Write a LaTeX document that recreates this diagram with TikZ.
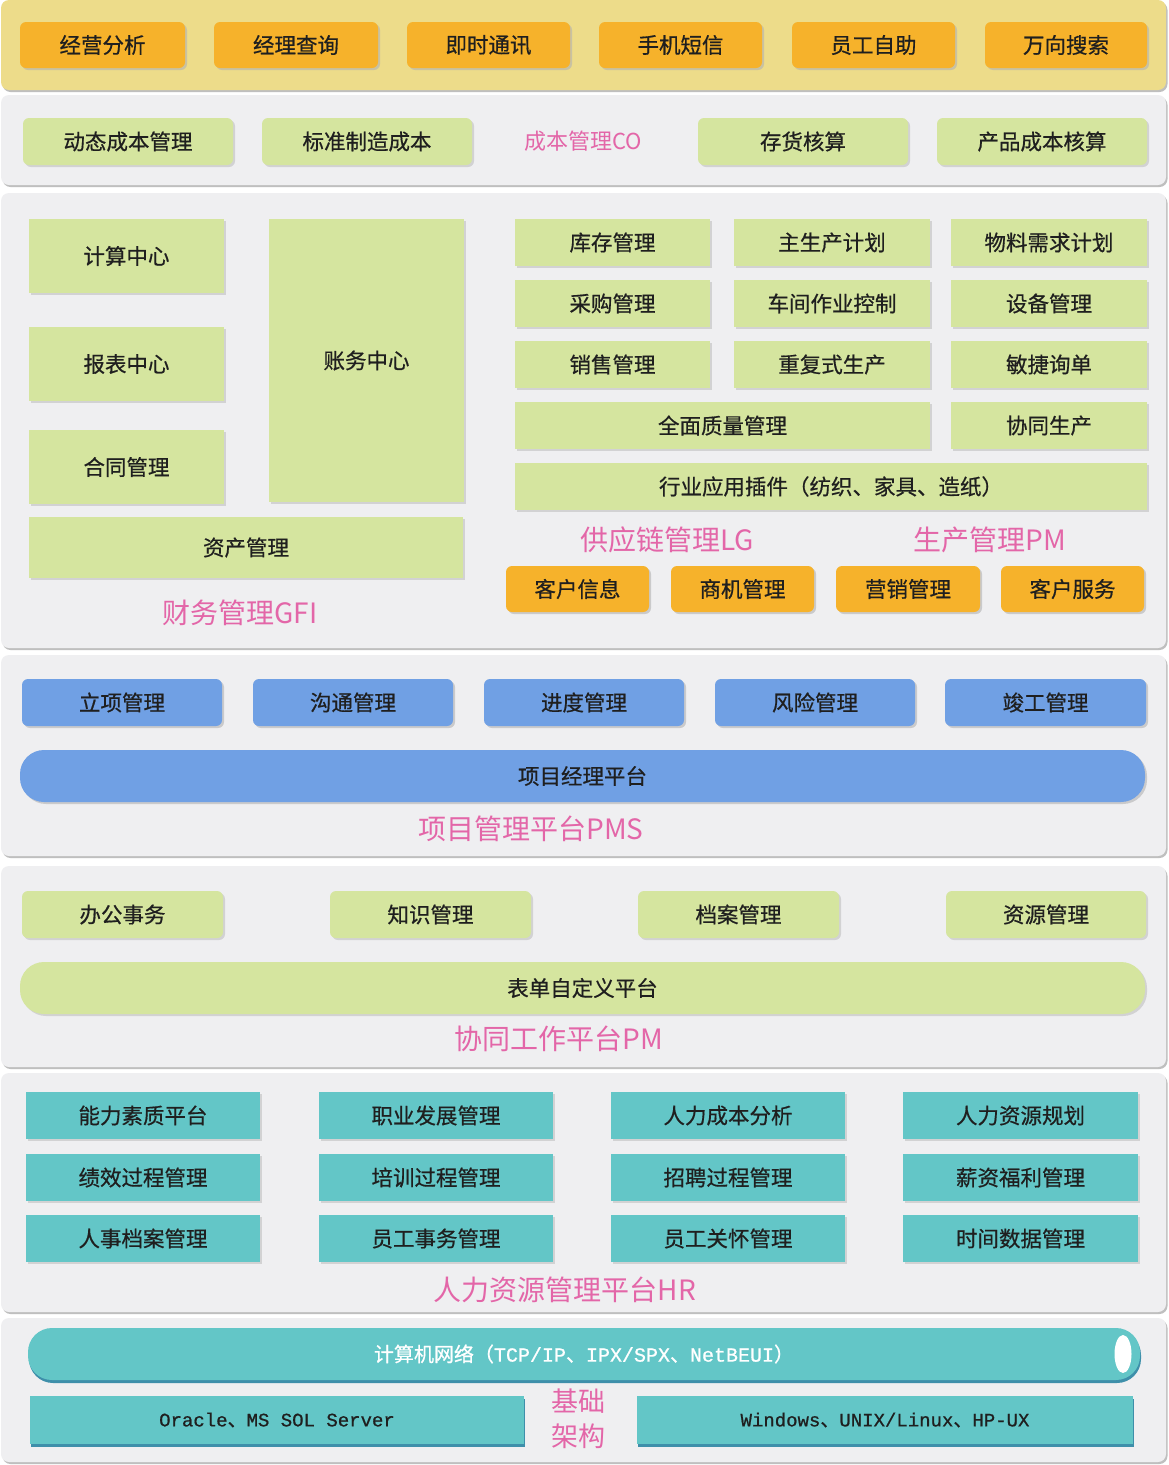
\documentclass[tikz,border=0pt]{standalone}
\usepackage{fontspec}
\setmainfont[FakeBold=0.6]{Noto Sans CJK SC}
\newfontfamily\plain{Noto Sans CJK SC}
\newfontfamily\mono[FakeBold=0.8]{Liberation Mono}
\usetikzlibrary{shadows,shapes.geometric}
\definecolor{bandY}{HTML}{EDDC8A}
\definecolor{bandG}{HTML}{EFEFF1}
\definecolor{org}{HTML}{F6B22B}
\definecolor{grn}{HTML}{D5E59F}
\definecolor{blu}{HTML}{70A0E4}
\definecolor{tea}{HTML}{63C6C7}
\definecolor{teaD}{HTML}{3E8FAA}
\definecolor{pnk}{HTML}{E366A8}
\newcommand\bx[7]{\node[#6, minimum width={#4-#2}, minimum height={#5-#3}] (#1) at ({(#2+#4)/2},{(#3+#5)/2}) {#7};}
\begin{document}
\begin{tikzpicture}[x=1pt,y=-1pt,
  base/.style={inner sep=0, font=\fontsize{21.5}{24}\selectfont, text=black!88},
  band/.style={inner sep=0, rounded corners=8, fill=bandG, drop shadow={shadow xshift=1.5pt, shadow yshift=-2pt, fill=black!25, opacity=1}},
  obox/.style={base, fill=org, rounded corners=6, drop shadow={shadow xshift=2pt, shadow yshift=-2pt, fill=black!30, opacity=.6}},
  gbox/.style={base, fill=grn, drop shadow={shadow xshift=2pt, shadow yshift=-2pt, fill=black!25, opacity=.6}},
  grbox/.style={gbox, rounded corners=6},
  bbox/.style={base, fill=blu, rounded corners=6, drop shadow={shadow xshift=2pt, shadow yshift=-2pt, fill=black!30, opacity=.6}},
  tbox/.style={base, fill=tea, drop shadow={shadow xshift=2pt, shadow yshift=-2pt, fill=black!25, opacity=.6}},
  tdbox/.style={base, fill=tea, drop shadow={shadow xshift=1pt, shadow yshift=-3pt, fill=teaD, opacity=1}},
  plab/.style={inner sep=0, font=\plain\fontsize{28}{32}\selectfont, text=pnk},
]
\useasboundingbox (0,0) rectangle (1169,1465);
\fill[white] (0,0) rectangle (1169,1465);
% bands
\bx{b1}{1}{0}{1166}{90}{band, fill=bandY}{}
\bx{b2}{1}{95}{1166}{185}{band}{}
\bx{b3}{1}{193}{1166}{648}{band}{}
\bx{b4}{1}{655}{1166}{856}{band}{}
\bx{b5}{1}{866}{1166}{1067}{band}{}
\bx{b6}{1}{1073}{1166}{1312}{band}{}
\bx{b7}{1}{1318}{1166}{1462}{band}{}
% top
\bx{t1}{20}{22}{185}{68}{obox}{经营分析}
\bx{t2}{214}{22}{378}{68}{obox}{经理查询}
\bx{t3}{407}{22}{570}{68}{obox}{即时通讯}
\bx{t4}{599}{22}{762}{68}{obox}{手机短信}
\bx{t5}{792}{22}{955}{68}{obox}{员工自助}
\bx{t6}{985}{22}{1147}{68}{obox}{万向搜索}
% cost
\bx{c1}{23}{118}{233}{165}{grbox}{动态成本管理}
\bx{c2}{262}{118}{472}{165}{grbox}{标准制造成本}
\node[plab, font=\plain\fontsize{22}{25}\selectfont] (co) at (583,141) {成本管理CO};
\bx{c3}{698}{118}{908}{165}{grbox}{存货核算}
\bx{c4}{937}{118}{1147}{165}{grbox}{产品成本核算}
% finance
\bx{f1}{29}{219}{224}{293}{gbox}{计算中心}
\bx{f2}{29}{327}{224}{401}{gbox}{报表中心}
\bx{f3}{29}{430}{224}{504}{gbox}{合同管理}
\bx{f4}{269}{219}{464}{502}{gbox}{账务中心}
\bx{f5}{29}{517}{463}{578}{gbox}{资产管理}
\node[plab] (gfi) at (240,613) {财务管理GFI};
% supply / production
\bx{s11}{515}{219}{710}{266}{gbox}{库存管理}
\bx{s12}{734}{219}{930}{266}{gbox}{主生产计划}
\bx{s13}{951}{219}{1147}{266}{gbox}{物料需求计划}
\bx{s21}{515}{280}{710}{327}{gbox}{采购管理}
\bx{s22}{734}{280}{930}{327}{gbox}{车间作业控制}
\bx{s23}{951}{280}{1147}{327}{gbox}{设备管理}
\bx{s31}{515}{341}{710}{388}{gbox}{销售管理}
\bx{s32}{734}{341}{930}{388}{gbox}{重复式生产}
\bx{s33}{951}{341}{1147}{388}{gbox}{敏捷询单}
\bx{s41}{515}{402}{930}{449}{gbox}{全面质量管理}
\bx{s43}{951}{402}{1147}{449}{gbox}{协同生产}
\bx{s5}{515}{463}{1147}{510}{gbox}{行业应用插件（纺织、家具、造纸）}
\node[plab] (lg) at (667,540) {供应链管理LG};
\node[plab] (pm) at (990,540) {生产管理PM};
\bx{o1}{506}{566}{649}{612}{obox}{客户信息}
\bx{o2}{671}{566}{814}{612}{obox}{商机管理}
\bx{o3}{836}{566}{980}{612}{obox}{营销管理}
\bx{o4}{1001}{566}{1144}{612}{obox}{客户服务}
% project
\bx{p1}{22}{679}{222}{726}{bbox}{立项管理}
\bx{p2}{253}{679}{453}{726}{bbox}{沟通管理}
\bx{p3}{484}{679}{684}{726}{bbox}{进度管理}
\bx{p4}{715}{679}{915}{726}{bbox}{风险管理}
\bx{p5}{945}{679}{1146}{726}{bbox}{竣工管理}
\bx{pp}{20}{750}{1145}{802}{bbox, rounded corners=24}{项目经理平台}
\node[plab] (pms) at (531,829) {项目管理平台PMS};
% cooperation
\bx{w1}{22}{891}{223}{938}{grbox}{办公事务}
\bx{w2}{330}{891}{531}{938}{grbox}{知识管理}
\bx{w3}{638}{891}{839}{938}{grbox}{档案管理}
\bx{w4}{946}{891}{1146}{938}{grbox}{资源管理}
\bx{wp}{20}{962}{1145}{1014}{grbox, rounded corners=24}{表单自定义平台}
\node[plab] (cpm) at (559,1039) {协同工作平台PM};
% HR
\bx{h11}{26}{1092}{260}{1139}{tbox}{能力素质平台}
\bx{h12}{319}{1092}{553}{1139}{tbox}{职业发展管理}
\bx{h13}{611}{1092}{845}{1139}{tbox}{人力成本分析}
\bx{h14}{903}{1092}{1138}{1139}{tbox}{人力资源规划}
\bx{h21}{26}{1154}{260}{1201}{tbox}{绩效过程管理}
\bx{h22}{319}{1154}{553}{1201}{tbox}{培训过程管理}
\bx{h23}{611}{1154}{845}{1201}{tbox}{招聘过程管理}
\bx{h24}{903}{1154}{1138}{1201}{tbox}{薪资福利管理}
\bx{h31}{26}{1215}{260}{1262}{tbox}{人事档案管理}
\bx{h32}{319}{1215}{553}{1262}{tbox}{员工事务管理}
\bx{h33}{611}{1215}{845}{1262}{tbox}{员工关怀管理}
\bx{h34}{903}{1215}{1138}{1262}{tbox}{时间数据管理}
\node[plab] (hr) at (565,1290) {人力资源管理平台HR};
% base
\bx{net}{28}{1328}{1140}{1380}{tdbox, rounded corners=24, text=white, font=\fontsize{20}{24}\selectfont}{计算机网络（{\mono TCP/IP}、{\mono IPX/SPX}、{\mono NetBEUI}）}
\node[fill=white, ellipse, inner sep=0, minimum width=17, minimum height=38] (cap) at (1123,1354) {};
\bx{db}{30}{1396}{524}{1444}{tdbox, font=\fontsize{19}{22}\selectfont}{{\mono Oracle}、{\mono MS SOL Server}}
\bx{os}{637}{1396}{1133}{1444}{tdbox, font=\fontsize{19}{22}\selectfont}{{\mono Windows}、{\mono UNIX/Linux}、{\mono HP-UX}}
\node[plab, align=center, font=\plain\fontsize{27}{35}\selectfont] (jc) at (578,1419) {基础\\架构};
\end{tikzpicture}
\end{document}
